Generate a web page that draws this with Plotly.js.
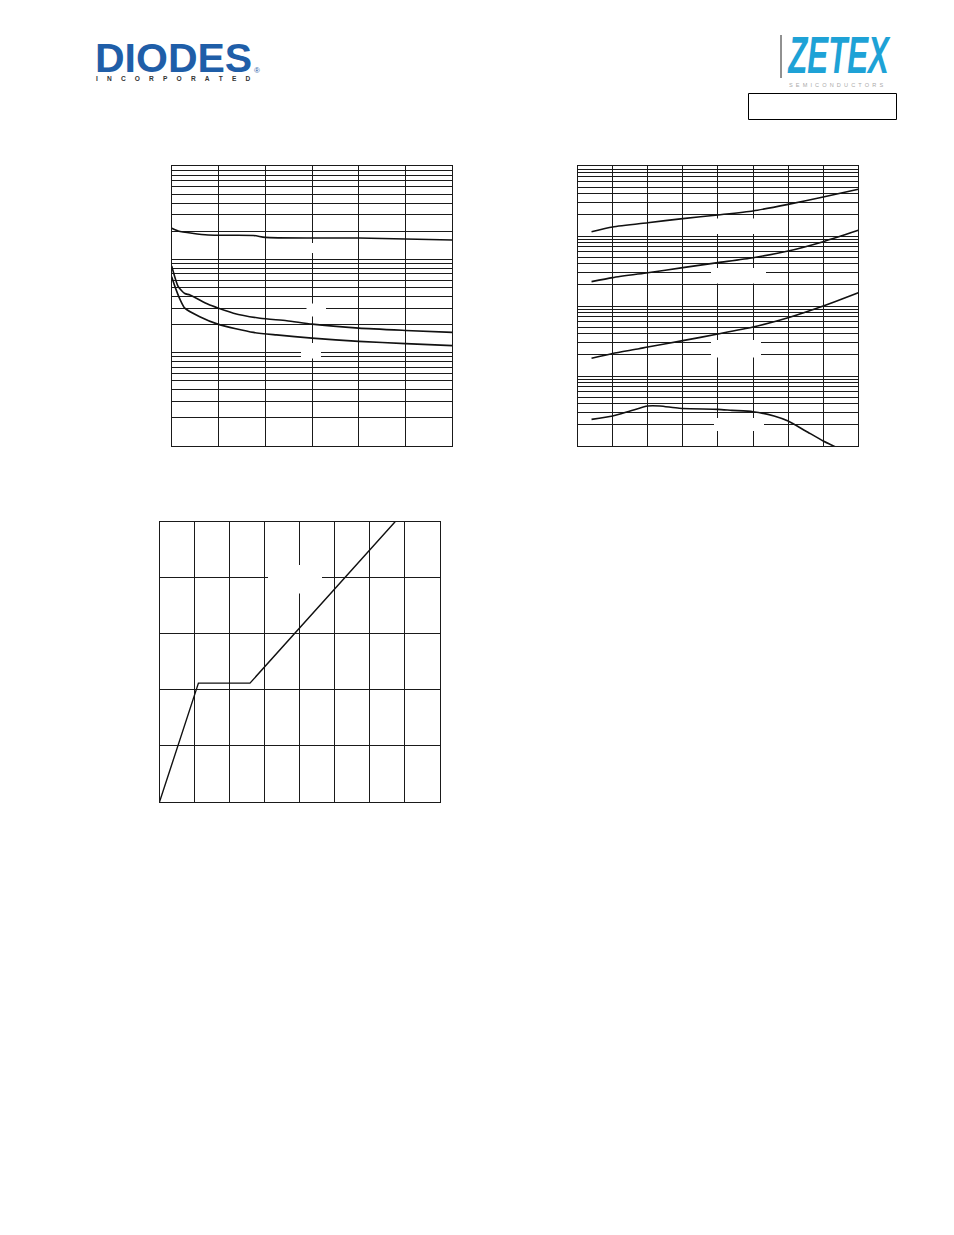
<!DOCTYPE html>
<html>
<head>
<meta charset="utf-8">
<script src="https://cdn.plot.ly/plotly-3.0.1.min.js"></script>
<style>
  html, body { margin: 0; padding: 0; background: #ffffff; }
  #chart { width: 954px; height: 1235px; }
</style>
</head>
<body>
<div id="chart"></div>
<script>
// ---------- Chart 1 (linear x, 3-decade log y) ----------
const c1TopX = [0, 0.14, 0.78, 1.75, 2.0, 3.0, 4.0, 5.0, 6.0];
const c1TopY = [215, 201, 182, 180, 172, 169, 169, 165, 161];
const c1MidX = [0, 0.14, 0.28, 0.39, 0.78, 1.0, 1.32, 1.89, 2.46, 3.0, 4.0, 5.0, 6.0];
const c1MidY = [85, 51, 43, 41.5, 33, 30, 26.5, 23.4, 22, 20.2, 18.3, 17.3, 16.5];
const c1LowX = [0, 0.07, 0.18, 0.28, 0.6, 1.0, 1.75, 2.24, 3.0, 4.0, 5.0, 6.0];
const c1LowY = [65, 51, 37, 30, 24.3, 20.1, 16.5, 15.5, 14.3, 13.2, 12.5, 11.9];

// ---------- Chart 2 (linear x, 4-decade log y) ----------
const c2X = [0.4, 1, 2, 3, 4, 5, 6, 7, 8];
const c2A = [1150, 1345, 1550, 1770, 2000, 2280, 2830, 3600, 4640];
const c2B = [223, 254, 299, 353, 416, 490, 610, 830, 1205];
const c2CX = [0.4, 1, 1.75, 2, 3, 4, 5, 6, 7, 8];
const c2C = [17.9, 21, 24.5, 26, 32, 39.8, 50.1, 68, 100, 155];
const c2DX = [0.4, 1, 1.5, 2, 2.35, 2.9, 4, 4.4, 5, 5.6, 6, 6.5, 7, 7.35];
const c2D = [2.4, 2.68, 3.16, 3.73, 3.73, 3.46, 3.34, 3.23, 3.09, 2.68, 2.27, 1.64, 1.18, 0.97];

// ---------- Chart 3 (linear x, linear y) ----------
const c3X = [0, 1.11, 2.58, 6.72];
const c3Y = [0, 2.12, 2.12, 5.0];

const W = 954, H = 1235;
const px = v => v / W;
const py = v => 1 - v / H;

const ink = '#1a1a1a';
const curve = { color: '#111111', width: 1.6, shape: 'spline', smoothing: 0.6 };

function ax(extra) {
  return Object.assign({
    showgrid: true, gridcolor: ink, gridwidth: 1,
    showline: true, mirror: true, linecolor: ink, linewidth: 1,
    ticks: '', showticklabels: false, zeroline: false, fixedrange: true
  }, extra);
}

const traces = [
  { x: c1TopX, y: c1TopY, xaxis: 'x', yaxis: 'y', mode: 'lines', line: curve, hoverinfo: 'skip' },
  { x: c1MidX, y: c1MidY, xaxis: 'x', yaxis: 'y', mode: 'lines', line: curve, hoverinfo: 'skip' },
  { x: c1LowX, y: c1LowY, xaxis: 'x', yaxis: 'y', mode: 'lines', line: curve, hoverinfo: 'skip' },
  { x: c2X, y: c2A, xaxis: 'x2', yaxis: 'y2', mode: 'lines', line: curve, hoverinfo: 'skip' },
  { x: c2X, y: c2B, xaxis: 'x2', yaxis: 'y2', mode: 'lines', line: curve, hoverinfo: 'skip' },
  { x: c2CX, y: c2C, xaxis: 'x2', yaxis: 'y2', mode: 'lines', line: curve, hoverinfo: 'skip' },
  { x: c2DX, y: c2D, xaxis: 'x2', yaxis: 'y2', mode: 'lines', line: curve, hoverinfo: 'skip' },
  { x: c3X, y: c3Y, xaxis: 'x3', yaxis: 'y3', mode: 'lines', line: { color: '#111111', width: 1.4 }, hoverinfo: 'skip' }
];

function whiteBox(x0, y0, x1, y1) {
  return { type: 'rect', xref: 'paper', yref: 'paper', layer: 'above',
           x0: px(x0), x1: px(x1), y0: py(y0), y1: py(y1),
           fillcolor: '#ffffff', line: { width: 0 } };
}

const shapes = [
  // blank label backdrops interrupting the grids
  whiteBox(302, 243, 322, 253),
  whiteBox(306.5, 303.5, 326, 316.5),
  whiteBox(301, 343, 321, 358.5),
  whiteBox(706, 218.5, 766, 234),
  whiteBox(711, 268, 766, 283.5),
  whiteBox(711, 340, 761, 357.5),
  whiteBox(714, 418, 764, 431),
  whiteBox(268, 565, 322, 593.5),
  // ZETEX separator and header box
  { type: 'line', xref: 'paper', yref: 'paper', x0: px(781), x1: px(781), y0: py(35), y1: py(78),
    line: { color: '#222222', width: 1 } },
  { type: 'rect', xref: 'paper', yref: 'paper', x0: px(748.5), x1: px(896.5), y0: py(93.5), y1: py(119.5),
    line: { color: '#000000', width: 1 }, fillcolor: 'rgba(0,0,0,0)' }
];

const sp = '\u00a0';
const annotations = [
  { xref: 'paper', yref: 'paper', x: px(94), y: py(57.5), xanchor: 'left', yanchor: 'middle',
    text: '<b>DIODES</b>', showarrow: false, borderpad: 0,
    font: { family: 'Liberation Sans, Arial, sans-serif', size: 41, color: '#1f5ea8' } },
  { xref: 'paper', yref: 'paper', x: px(95), y: py(79), xanchor: 'left', yanchor: 'middle',
    text: '<b>' + 'INCORPORATED'.split('').join(sp.repeat(5)) + '</b>', showarrow: false, borderpad: 0,
    font: { family: 'Liberation Sans, Arial, sans-serif', size: 6.6, color: '#333333' } },
  { xref: 'paper', yref: 'paper', x: px(253), y: py(71), xanchor: 'left', yanchor: 'middle',
    text: '®', showarrow: false, borderpad: 0,
    font: { family: 'Liberation Sans, Arial, sans-serif', size: 8, color: '#1f5ea8' } },
  { xref: 'paper', yref: 'paper', x: px(786), y: py(55.5), xanchor: 'left', yanchor: 'middle',
    text: '<b><i>ZETEX</i></b>', showarrow: false, borderpad: 0,
    font: { family: 'Liberation Sans, Arial, sans-serif', size: 52, color: '#1ea2d6' } },
  { xref: 'paper', yref: 'paper', x: px(788), y: py(85), xanchor: 'left', yanchor: 'middle',
    text: 'SEMICONDUCTORS'.split('').join(sp + sp), showarrow: false, borderpad: 0,
    font: { family: 'Liberation Sans, Arial, sans-serif', size: 5.6, color: '#aaaaaa' } }
];

const layout = {
  width: W, height: H,
  margin: { l: 0, r: 0, t: 0, b: 0, pad: 0 },
  paper_bgcolor: '#ffffff', plot_bgcolor: '#ffffff',
  showlegend: false,
  xaxis: ax({ domain: [px(171.7), px(452.3)], range: [0, 6], dtick: 1, anchor: 'y' }),
  yaxis: ax({ domain: [py(446), py(166)], type: 'log', range: [0, 3], dtick: 'D1', anchor: 'x' }),
  xaxis2: ax({ domain: [px(577.5), px(858.3)], range: [0, 8], dtick: 1, anchor: 'y2' }),
  yaxis2: ax({ domain: [py(446), py(166)], type: 'log', range: [0, 4], dtick: 'D1', anchor: 'x2' }),
  xaxis3: ax({ domain: [px(159.5), px(440)], range: [0, 8], dtick: 1, anchor: 'y3' }),
  yaxis3: ax({ domain: [py(802), py(521.7)], range: [0, 5], dtick: 1, anchor: 'x3' }),
  shapes: shapes,
  annotations: annotations
};

Plotly.newPlot('chart', traces, layout, { staticPlot: true, displayModeBar: false }).then(gd => {
  // the ZETEX wordmark is a condensed face: squeeze it horizontally to its logo width
  const g = gd.querySelector('.annotation[data-index="3"]');
  const t = g && g.querySelector('text');
  if (t) {
    const bb = t.getBBox();
    const s = 104 / bb.width;
    t.setAttribute('transform', 'translate(' + bb.x + ',0) scale(' + s + ',1) translate(' + (-bb.x) + ',0)');
  }
});
</script>
</body>
</html>
